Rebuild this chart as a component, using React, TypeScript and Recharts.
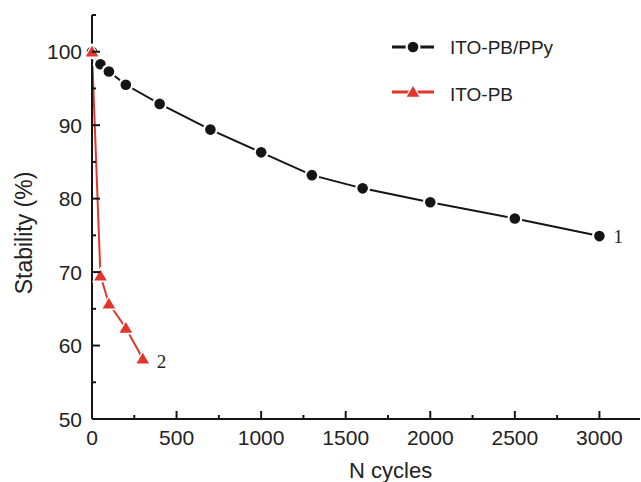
import { LineChart, Line, XAxis, YAxis } from "recharts";

// ITO-PB/PPy film (curve 1)
const ppyCycles = [0, 50, 100, 200, 400, 700, 1000, 1300, 1600, 2000, 2500, 3000];
const ppyStability = [100, 98.3, 97.3, 95.5, 92.9, 89.4, 86.3, 83.2, 81.4, 79.5, 77.3, 74.9];

// ITO-PB film (curve 2)
const pbCycles = [0, 50, 100, 200, 300];
const pbStability = [100, 69.5, 65.7, 62.4, 58.2];

const xTicks = [0, 250, 500, 750, 1000, 1250, 1500, 1750, 2000, 2250, 2500, 2750, 3000];
const yTicks = [50, 55, 60, 65, 70, 75, 80, 85, 90, 95, 100, 105];

const ppyData = ppyCycles.map((n, i) => ({ n, s: ppyStability[i] }));
const pbData = pbCycles.map((n, i) => ({ n, s: pbStability[i] }));

const BLACK = "#151515";
const RED = "#e2352b";
const TEXT = "#222";
const FONT = "'Liberation Sans', Arial, sans-serif";
const SERIF = "'Liberation Serif', 'Times New Roman', serif";

const Circle = ({ cx, cy }: any) => (
    <g>
        <circle cx={cx} cy={cy} r={7.5} fill="#fff" />
        <circle cx={cx} cy={cy} r={5.3} fill={BLACK} />
    </g>
);

const Triangle = ({ cx, cy }: any) => (
    <g>
        <polygon
            points={`${cx},${cy - 9} ${cx - 8.5},${cy + 6.5} ${cx + 8.5},${cy + 6.5}`}
            fill="#fff"
        />
        <polygon
            points={`${cx},${cy - 6} ${cx - 6.3},${cy + 4.8} ${cx + 6.3},${cy + 4.8}`}
            fill={RED}
        />
    </g>
);

const XTick = ({ x, y, payload }: any) => {
    const major = payload.value % 500 === 0;
    return (
        <g>
            <line x1={x} y1={y} x2={x} y2={y - (major ? 8 : 4)} stroke={BLACK} strokeWidth={2} />
            {major && (
                <text x={x} y={y + 26} textAnchor="middle" fill={TEXT} fontSize={21} fontFamily={FONT}>
                    {payload.value}
                </text>
            )}
        </g>
    );
};

const YTick = ({ x, y, payload }: any) => {
    const major = payload.value % 10 === 0;
    return (
        <g>
            <line x1={x} y1={y} x2={x + (major ? 8 : 4)} y2={y} stroke={BLACK} strokeWidth={2} />
            {major && (
                <text x={x - 10} y={y + 7.5} textAnchor="end" fill={TEXT} fontSize={21} fontFamily={FONT}>
                    {payload.value}
                </text>
            )}
        </g>
    );
};

const endLabel = (count: number, text: string, dx: number, dy: number) => (props: any) => {
    if (props.index !== count - 1) return null;
    return (
        <text
            key="end"
            x={props.x + dx}
            y={props.y + dy}
            fill={TEXT}
            fontSize={19}
            fontFamily={SERIF}
        >
            {text}
        </text>
    );
};

const LegendBox = () => (
    <svg width={200} height={80} style={{ display: "block" }}>
        <line x1={2} y1={12} x2={44} y2={12} stroke={BLACK} strokeWidth={3} />
        <circle cx={23} cy={12} r={7.5} fill="#fff" />
        <circle cx={23} cy={12} r={5.3} fill={BLACK} />
        <text x={60} y={19} fill={TEXT} fontSize={19} fontFamily={FONT}>ITO-PB/PPy</text>
        <line x1={2} y1={57} x2={44} y2={57} stroke={RED} strokeWidth={3} />
        <polygon points="23,48 14.5,63.5 31.5,63.5" fill="#fff" />
        <polygon points="23,51 16.7,61.8 29.3,61.8" fill={RED} />
        <text x={60} y={66} fill={TEXT} fontSize={19} fontFamily={FONT}>ITO-PB</text>
    </svg>
);

export default function App() {
    return (
        <div style={{ position: "fixed", left: 0, top: 0, width: 641, height: 482, background: "#fff" }}>
            <LineChart width={641} height={482} margin={{ top: 15, right: 1, left: 32, bottom: 13 }}>
                <XAxis
                    type="number"
                    dataKey="n"
                    domain={[0, 3240]}
                    ticks={xTicks}
                    interval={0}
                    tickSize={0}
                    tickMargin={0}
                    tick={<XTick />}
                    height={50}
                    axisLine={{ stroke: BLACK, strokeWidth: 2 }}
                    label={{
                        content: ({ viewBox }: any) => (
                            <text
                                x={viewBox.x + viewBox.width * 0.545}
                                y={viewBox.y + 59}
                                textAnchor="middle"
                                fill={TEXT}
                                fontSize={22}
                                fontFamily={FONT}
                            >
                                N cycles
                            </text>
                        ),
                    }}
                />
                <YAxis
                    type="number"
                    domain={[50, 105]}
                    ticks={yTicks}
                    interval={0}
                    tickSize={0}
                    tickMargin={0}
                    tick={<YTick />}
                    width={60}
                    axisLine={{ stroke: BLACK, strokeWidth: 2 }}
                    label={{
                        content: ({ viewBox }: any) => {
                            const cx = viewBox.x - 8;
                            const cy = viewBox.y + viewBox.height / 2 + 16;
                            return (
                                <text
                                    x={cx}
                                    y={cy}
                                    transform={`rotate(-90 ${cx} ${cy})`}
                                    textAnchor="middle"
                                    dominantBaseline="central"
                                    fill={TEXT}
                                    fontSize={23}
                                    fontFamily={FONT}
                                >
                                    Stability (%)
                                </text>
                            );
                        },
                    }}
                />
                <Line
                    data={ppyData}
                    dataKey="s"
                    type="linear"
                    stroke={BLACK}
                    strokeWidth={2}
                    dot={<Circle />}
                    label={endLabel(ppyData.length, "1", 14, 7)}
                    isAnimationActive={false}
                />
                <Line
                    data={pbData}
                    dataKey="s"
                    type="linear"
                    stroke={RED}
                    strokeWidth={2}
                    dot={<Triangle />}
                    label={endLabel(pbData.length, "2", 14, 9)}
                    isAnimationActive={false}
                />
            </LineChart>
            <div style={{ position: "absolute", left: 390, top: 35 }}>
                <LegendBox />
            </div>
        </div>
    );
}
